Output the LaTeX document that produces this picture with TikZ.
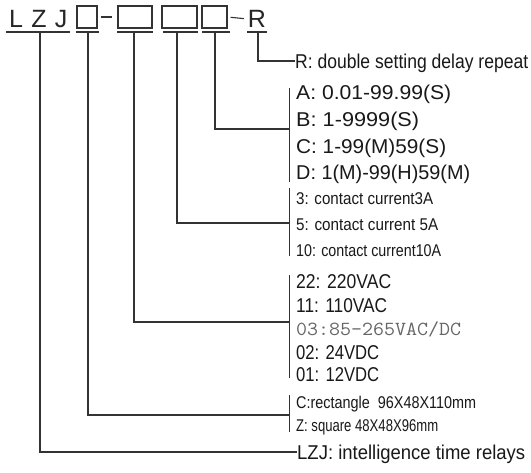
\documentclass[tikz,border=0pt]{standalone}
\usepackage{fontspec}
\usepackage{graphicx}
\setmainfont{Liberation Sans}
\newcommand{\fitw}[2]{\resizebox{#1}{\height}{#2}}
\begin{document}
\begin{tikzpicture}[x=1pt,y=-1pt,
  ln/.style={draw=black!80,line width=1.1pt},
  bx/.style={draw=black!80,line width=1.1pt,minimum height=22pt,inner sep=0pt},
  hdr/.style={inner sep=0pt,text=black!85,font=\fontsize{25}{25}\selectfont},
  lbl/.style={anchor=west,inner sep=0pt,text=black!90,text depth=0pt},
  big/.style={lbl,font=\fontsize{20}{20}\selectfont,text height=14.3pt},
  small/.style={lbl,font=\fontsize{17}{17}\selectfont,text height=12.2pt},
  mono/.style={lbl,text=black!60,font=\ttfamily\fontsize{20}{20}\selectfont,text height=13pt}]
\useasboundingbox[fill=white] (0,0) rectangle (531,473);
% header
\node[hdr] (hL) at (16,19) {L};
\node[hdr] (hZ) at (39,19) {Z};
\node[hdr] (hJ) at (61,19) {J};
\node[bx,minimum width=20pt] (b1) at (87,17) {};
\node[bx,minimum width=34pt] (b2) at (135,17) {};
\node[bx,minimum width=35pt] (b3) at (179.5,17) {};
\node[bx,minimum width=25pt] (b4) at (214.5,17) {};
\node[hdr] (hR) at (257,19) {R};
\draw[ln,shorten <=3pt,shorten >=5pt] (b1.east) -- (b2.west);
\draw[ln,shorten <=3pt,shorten >=4pt] (b4.east) -- (hR.west);
% underlines
\draw[ln] (6,32) -- (70,32);
\draw[ln] (76,32) -- (99,32);
\draw[ln] (117,32) -- (153,32);
\draw[ln] (163,32) -- (198,32);
\draw[ln] (202,32) -- (230,32);
\draw[ln] (247,32) -- (267,32);
% labels
\node[big] (tR) at (295,61) {\fitw{233pt}{R: double setting delay repeat}};
\node[big] (tA) at (296,92) {\fitw{155pt}{A: 0.01-99.99(S)}};
\node[big] (tB) at (296,119) {\fitw{123pt}{B: 1-9999(S)}};
\node[big] (tC) at (296,146) {\fitw{150pt}{C: 1-99(M)59(S)}};
\node[big] (tD) at (296,172) {\fitw{174pt}{D: 1(M)-99(H)59(M)}};
\node[small] (t3) at (296,198) {\fitw{137pt}{3: contact current3A}};
\node[small] (t5) at (296,224) {\fitw{142pt}{5: contact current 5A}};
\node[small] (t10) at (296,250) {\fitw{145pt}{10: contact current10A}};
\node[big] (t22) at (296,281) {\fitw{95pt}{22: 220VAC}};
\node[big] (t11) at (296,305) {\fitw{91pt}{11: 110VAC}};
\node[mono] (t03) at (296,329) {\fitw{165pt}{03:85-265VAC/DC}};
\node[big] (t02) at (296,352) {\fitw{83pt}{02: 24VDC}};
\node[big] (t01) at (296,374) {\fitw{83pt}{01: 12VDC}};
\node[small] (tCr) at (296,402) {\fitw{180pt}{C:rectangle\ \ 96X48X110mm}};
\node[small] (tZ) at (296,425) {\fitw{142pt}{Z: square 48X48X96mm}};
\node[big] (tL) at (297,452) {\fitw{228pt}{LZJ: intelligence time relays}};
% brackets
\coordinate (kAD) at (289,129);
\coordinate (kCt) at (289,223);
\coordinate (kPw) at (289,322);
\coordinate (kSz) at (289,415);
\draw[ln,line width=0.8pt] (289,88) -- (289,182);
\draw[ln,line width=0.8pt] (289,188) -- (289,256);
\draw[ln,line width=0.8pt] (289,275) -- (289,378);
\draw[ln,line width=0.8pt] (289,395) -- (289,432);
% connectors
\draw[ln] (258,32) |- (tR.west);
\draw[ln] (215,32) |- (kAD);
\draw[ln] (177,32) |- (kCt);
\draw[ln] (134,32) |- (kPw);
\draw[ln] (88,32) |- (kSz);
\draw[ln] (40,32) |- (tL.west);
\end{tikzpicture}
\end{document}
